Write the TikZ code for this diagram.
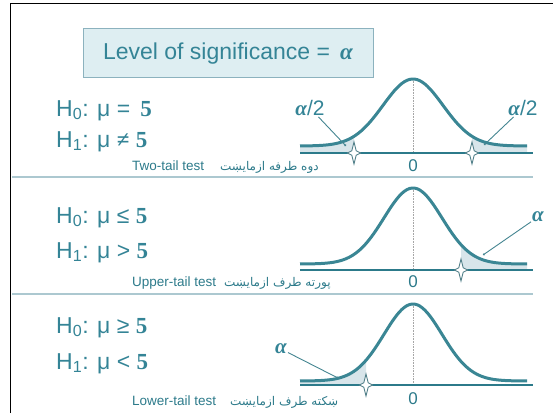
\documentclass[tikz,border=0pt]{standalone}
\usepackage{fontspec}
\usetikzlibrary{arrows.meta}
\setmainfont{Liberation Sans}
\newfontfamily\serif{Liberation Serif}
\newfontfamily\pashto[Script=Arabic]{DejaVu Sans}
\TeXXeTstate=1
\definecolor{tealtext}{RGB}{52,132,150}
\definecolor{tealcurve}{RGB}{58,134,148}
\definecolor{tealaxis}{RGB}{44,122,138}
\definecolor{boxfill}{RGB}{222,238,242}
\definecolor{boxline}{RGB}{140,178,190}
\definecolor{sepline}{RGB}{172,200,208}
\definecolor{tailfill}{RGB}{216,229,234}
\newcommand{\five}{{\serif\bfseries 5}}
\newcommand{\alp}{{\serif\bfseries\itshape α}}

\begin{document}
\begin{tikzpicture}[x=1pt,y=1pt,
 titlebox/.style={draw=boxline,fill=boxfill,line width=1pt,minimum width=290pt,minimum height=49pt,
   text=tealtext,font=\fontsize{23}{26}\selectfont},
 hyp/.style={anchor=base west,text=tealtext,inner sep=0pt,font=\fontsize{23}{26}\selectfont},
 lbl/.style={text=tealtext,inner sep=1pt,font=\fontsize{21}{24}\selectfont},
 zero/.style={text=tealaxis,inner sep=0pt,font=\fontsize{17}{19}\selectfont},
 capt/.style={anchor=base west,text=tealaxis,inner sep=0pt,font=\fontsize{13.5}{15}\selectfont},
 fa/.style={anchor=base west,text=tealaxis,inner sep=0pt,font=\pashto\fontsize{12}{14}\selectfont},
 curve/.style={draw=tealcurve,line width=3pt},
 axisline/.style={draw=tealaxis,line width=2pt},
 midline/.style={draw=gray!70,densely dotted,line width=0.6pt},
 pointer/.style={draw=tealcurve!85!gray,line width=0.9pt,-{Circle[length=2pt]}},
 sepline/.style={draw=sepline,line width=2pt},
 spark/.pic={\filldraw[fill=white,draw=tealcurve!60!gray,line width=0.9pt]
   (0,11) -- (2.2,2.2) -- (6.5,0) -- (2.2,-2.2) -- (0,-11)
   -- (-2.2,-2.2) -- (-6.5,0) -- (-2.2,2.2) -- cycle;}]
\useasboundingbox (0,0) rectangle (553,413);

% frame and separators
\draw[black,line width=1.3pt] (10.6,0) -- (10.6,409.5) -- (553,409.5);
\draw[sepline] (12,236) -- (533,236);
\draw[sepline] (12,119) -- (533,119);

\node[titlebox] (title) at (228,359.5) {Level of significance =\, \alp};

% two-tail test
\node[hyp] (h0a) at (56,297) {H\textsubscript{0}: μ =\, \five};
\node[hyp] (h1a) at (56,266) {H\textsubscript{1}: μ {\serif\bfseries ≠} \five};
\fill[tailfill] (300,260) -- plot[domain=300:354,samples=30] (\x,{267+67*exp(-0.5*((\x-413)/30)^2)}) -- (354,260) -- cycle;
\fill[tailfill] (472,260) -- plot[domain=472:527,samples=30] (\x,{267+67*exp(-0.5*((\x-413)/30)^2)}) -- (527,260) -- cycle;
\draw[midline] (413,334) -- (413,260);
\draw[curve] plot[domain=300:527,samples=90,smooth] (\x,{267+67*exp(-0.5*((\x-413)/30)^2)});
\draw[axisline] (300,260) -- (533,260);
\pic at (354,260) {spark};
\pic at (472,260) {spark};
\node[zero] (za) at (413,247.5) {0};
\node[lbl] (aL) at (310,305) {\alp/2};
\node[lbl] (aR) at (523,305) {\alp/2};
\coordinate (pL) at (346,267);
\coordinate (pR) at (484,268);
\draw[pointer] (aL) -- (pL);
\draw[pointer] (aR) -- (pR);
\node[capt] (ca) at (132,243) {Two-tail test};
\node[fa] (fa1) at (220,243) {\beginR دوه طرفه ازمایښت\endR};

% upper-tail test
\node[hyp] (h0b) at (56,190) {H\textsubscript{0}: μ ≤ \five};
\node[hyp] (h1b) at (56,155) {H\textsubscript{1}: μ > \five};
\fill[tailfill] (461,143) -- plot[domain=461:527,samples=30] (\x,{149+76*exp(-0.5*((\x-413)/29)^2)}) -- (527,143) -- cycle;
\draw[midline] (413,225) -- (413,143);
\draw[curve] plot[domain=300:527,samples=90,smooth] (\x,{149+76*exp(-0.5*((\x-413)/29)^2)});
\draw[axisline] (300,143) -- (533,143);
\pic at (461,143) {spark};
\node[zero] (zb) at (413,131) {0};
\node[lbl] (aU) at (538,196) {\alp};
\coordinate (pU) at (483,158);
\draw[pointer] (aU) -- (pU);
\node[capt] (cb) at (132,127) {Upper-tail test};
\node[fa] (fa2) at (224,127) {\beginR پورته طرف ازمایښت\endR};

% lower-tail test
\node[hyp] (h0c) at (56,80) {H\textsubscript{0}: μ ≥ \five};
\node[hyp] (h1c) at (56,44) {H\textsubscript{1}: μ < \five};
\fill[tailfill] (300,28) -- plot[domain=300:366,samples=30] (\x,{32+77*exp(-0.5*((\x-413)/29)^2)}) -- (366,28) -- cycle;
\draw[midline] (413,109) -- (413,28);
\draw[curve] plot[domain=300:527,samples=90,smooth] (\x,{32+77*exp(-0.5*((\x-413)/29)^2)});
\draw[axisline] (300,28) -- (533,28);
\pic at (366,28) {spark};
\node[zero] (zc) at (413,14) {0};
\node[lbl] (aD) at (281,64) {\alp};
\coordinate (pD) at (338,35);
\draw[pointer] (aD) -- (pD);
\node[capt] (cc) at (132,8) {Lower-tail test};
\node[fa] (fa3) at (230,8) {\beginR ښکته طرف ازمایښت\endR};
\end{tikzpicture}
\end{document}
